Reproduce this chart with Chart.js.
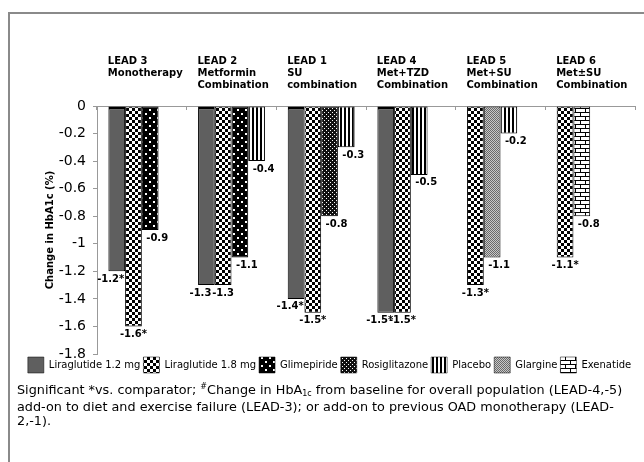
<!DOCTYPE html>
<html>
<head>
<meta charset="utf-8">
<script src="https://cdn.jsdelivr.net/npm/chart.js@4.4.1/dist/chart.umd.min.js"></script>
<style>
html, body { margin: 0; padding: 0; background: #fff; }
#wrap { position: relative; width: 644px; height: 462px; overflow: hidden; font-family: "DejaVu Sans", Verdana, sans-serif; }
#frame { position: absolute; left: 8px; top: 12px; width: 700px; height: 500px; border-left: 2px solid #8a8a8a; border-top: 2px solid #8a8a8a; }
#chartBox { position: absolute; left: 0; top: 0; width: 636px; height: 385px; }
#note { position: absolute; left: 17px; top: 383px; font-size: 12.8px; line-height: 14.5px; color: #000; white-space: nowrap; }
#note .sup { font-size: 8px; position: relative; top: -5px; }
#note .sub { font-size: 8px; position: relative; top: 2px; }
</style>
</head>
<body>
<div id="wrap">
  <div id="frame"></div>
  <div id="chartBox"><canvas id="chart"></canvas></div>
  <div id="note">Significant *vs. comparator; <span class="sup">#</span>Change in HbA<span class="sub">1c</span> from baseline for overall population (LEAD-4,-5)<br>add-on to diet and exercise failure (LEAD-3); or add-on to previous OAD monotherapy (LEAD-<br>2,-1).</div>
</div>
<script>
// 試験グループ（見出し）
const groupLabels = [
    ['LEAD 3', 'Monotherapy', ''],
    ['LEAD 2', 'Metformin', 'Combination'],
    ['LEAD 1', 'SU', 'combination'],
    ['LEAD 4', 'Met+TZD', 'Combination'],
    ['LEAD 5', 'Met+SU', 'Combination'],
    ['LEAD 6', 'Met±SU', 'Combination']
];

// HbA1c 変化量 (%)
const lira12 = [-1.2, -1.3, -1.4, -1.5, null, null];
const lira18 = [-1.6, -1.3, -1.5, -1.5, -1.3, -1.1];
const glimepiride = [-0.9, -1.1, null, null, null, null];
const rosiglitazone = [null, null, -0.8, null, null, null];
const placebo = [null, -0.4, -0.3, -0.5, -0.2, null];
const glargine = [null, null, null, null, -1.1, null];
const exenatide = [null, null, null, null, null, -0.8];

// 有意差 (*)
const lira12Star = [true, false, true, true, false, false];
const lira18Star = [true, false, true, true, true, true];

// Y軸
const yMin = -1.8;
const yMax = 0;
const yStep = 0.2;

const FONT = '"DejaVu Sans", Verdana, sans-serif';
Chart.defaults.font.family = FONT;
Chart.defaults.color = '#000';

// パターン作成
function makePattern(w, h, draw) {
    const c = document.createElement('canvas');
    c.width = w;
    c.height = h;
    const g = c.getContext('2d');
    draw(g);
    return g.createPattern(c, 'repeat');
}

const fills = {
    lira12: '#5f5f5f',
    lira18: makePattern(6, 6, g => {
        g.fillStyle = '#fff'; g.fillRect(0, 0, 6, 6);
        g.fillStyle = '#000'; g.fillRect(0, 0, 3, 3); g.fillRect(3, 3, 3, 3);
    }),
    glim: makePattern(8, 8, g => {
        g.fillStyle = '#000'; g.fillRect(0, 0, 8, 8);
        g.fillStyle = '#fff'; g.fillRect(1, 1, 2, 2); g.fillRect(5, 5, 2, 2);
    }),
    rosi: makePattern(4, 4, g => {
        g.fillStyle = '#111'; g.fillRect(0, 0, 4, 4);
        g.fillStyle = '#fff'; g.fillRect(0, 0, 1, 1); g.fillRect(2, 2, 1, 1);
    }),
    placebo: makePattern(4, 1, g => {
        g.fillStyle = '#fff'; g.fillRect(0, 0, 4, 1);
        g.fillStyle = '#000'; g.fillRect(0, 0, 2, 1);
    }),
    glargine: makePattern(2, 2, g => {
        g.fillStyle = '#c8c8c8'; g.fillRect(0, 0, 2, 2);
        g.fillStyle = '#6a6a6a'; g.fillRect(0, 0, 1, 1); g.fillRect(1, 1, 1, 1);
    }),
    exen: makePattern(10, 8, g => {
        g.fillStyle = '#fff'; g.fillRect(0, 0, 10, 8);
        g.fillStyle = '#000';
        g.fillRect(0, 0, 10, 1); g.fillRect(0, 4, 10, 1);
        g.fillRect(0, 1, 1, 3); g.fillRect(5, 5, 1, 3);
    })
};

const series = {
    lira12: { name: 'Liraglutide 1.2 mg', values: lira12, stars: lira12Star },
    lira18: { name: 'Liraglutide 1.8 mg', values: lira18, stars: lira18Star },
    glim: { name: 'Glimepiride', values: glimepiride },
    rosi: { name: 'Rosiglitazone', values: rosiglitazone },
    placebo: { name: 'Placebo', values: placebo },
    glargine: { name: 'Glargine', values: glargine },
    exen: { name: 'Exenatide', values: exenatide }
};

const legendOrder = ['lira12', 'lira18', 'glim', 'rosi', 'placebo', 'glargine', 'exen'];
const barOrder = ['lira12', 'lira18', 'glim', 'rosi', 'glargine', 'exen', 'placebo'];

// ラベル横ずれ
const labelShift = { lira12: -6, lira18: 0 };

// 各グループ内で左詰めのスロットに割り当て
const slotCount = 4;
const slots = [];
for (let s = 0; s < slotCount; s++) {
    slots.push({ data: groupLabels.map(() => null), drugs: groupLabels.map(() => null) });
}
groupLabels.forEach((_, i) => {
    const present = barOrder.filter(k => series[k].values[i] !== null);
    present.forEach((k, s) => {
        slots[s].data[i] = series[k].values[i];
        slots[s].drugs[i] = k;
    });
});

const datasets = slots.map((s, idx) => ({
    label: 'slot' + idx,
    data: s.data,
    drugs: s.drugs,
    backgroundColor: ctx => fills[ctx.dataset.drugs[ctx.dataIndex]] || '#000',
    borderColor: '#000',
    borderWidth: ctx => ctx.dataset.drugs[ctx.dataIndex] === 'lira12'
        ? { top: 3, left: 1, right: 1, bottom: 1 }
        : 1,
    borderSkipped: false,
    barPercentage: 1,
    categoryPercentage: 0.746
}));

// 値ラベル
const valueLabels = {
    id: 'valueLabels',
    afterDatasetsDraw(chart) {
        const ctx = chart.ctx;
        ctx.save();
        ctx.font = 'bold 10px ' + FONT;
        ctx.fillStyle = '#000';
        ctx.textAlign = 'center';
        ctx.textBaseline = 'top';
        chart.data.datasets.forEach((ds, di) => {
            const meta = chart.getDatasetMeta(di);
            meta.data.forEach((bar, i) => {
                const v = ds.data[i];
                if (v === null) return;
                const key = ds.drugs[i];
                const star = series[key].stars ? series[key].stars[i] : false;
                const dx = key in labelShift ? labelShift[key] : 7;
                ctx.fillText(v.toFixed(1) + (star ? '*' : ''), bar.x + dx, bar.y + 3);
            });
        });
        ctx.restore();
    }
};

new Chart(document.getElementById('chart'), {
    type: 'bar',
    data: { labels: groupLabels, datasets },
    plugins: [valueLabels],
    options: {
        responsive: true,
        maintainAspectRatio: false,
        animation: false,
        layout: { padding: { left: 24, right: 1, top: 0, bottom: 2 } },
        plugins: {
            tooltip: { enabled: false },
            legend: {
                position: 'bottom',
                onClick: null,
                labels: {
                    boxWidth: 16,
                    boxHeight: 16,
                    padding: 3,
                    color: '#000',
                    font: { size: 10 },
                    generateLabels: () => legendOrder.map(k => ({
                        text: series[k].name,
                        fillStyle: fills[k],
                        strokeStyle: '#000',
                        lineWidth: 0.5,
                        hidden: false,
                        datasetIndex: 0
                    }))
                }
            }
        },
        scales: {
            x: {
                position: 'top',
                grid: { drawOnChartArea: false, offset: true, tickLength: -4, color: '#999' },
                border: { color: '#999' },
                ticks: {
                    align: 'start',
                    labelOffset: -34,
                    padding: 19,
                    autoSkip: false,
                    maxRotation: 0,
                    color: '#000',
                    font: { size: 10, weight: 'bold' }
                },
                afterFit: s => {
                    s.height = 106;
                    s.paddingLeft = 0;
                    s.paddingRight = 0;
                }
            },
            y: {
                min: yMin,
                max: yMax,
                ticks: {
                    stepSize: yStep,
                    padding: 7,
                    color: '#000',
                    font: { size: 14 },
                    callback: v => {
                        const r = Math.round(v * 10) / 10;
                        return r === 0 ? '0' : String(r);
                    }
                },
                grid: { drawOnChartArea: false, tickLength: 4, color: '#999' },
                border: { color: '#999' },
                title: {
                    display: true,
                    text: 'Change in HbA1c (%)',
                    color: '#000',
                    font: { size: 10, weight: 'bold' },
                    padding: { top: 20, bottom: 0 }
                },
                afterFit: s => { s.width = 73; }
            }
        }
    }
});
</script>
</body>
</html>
